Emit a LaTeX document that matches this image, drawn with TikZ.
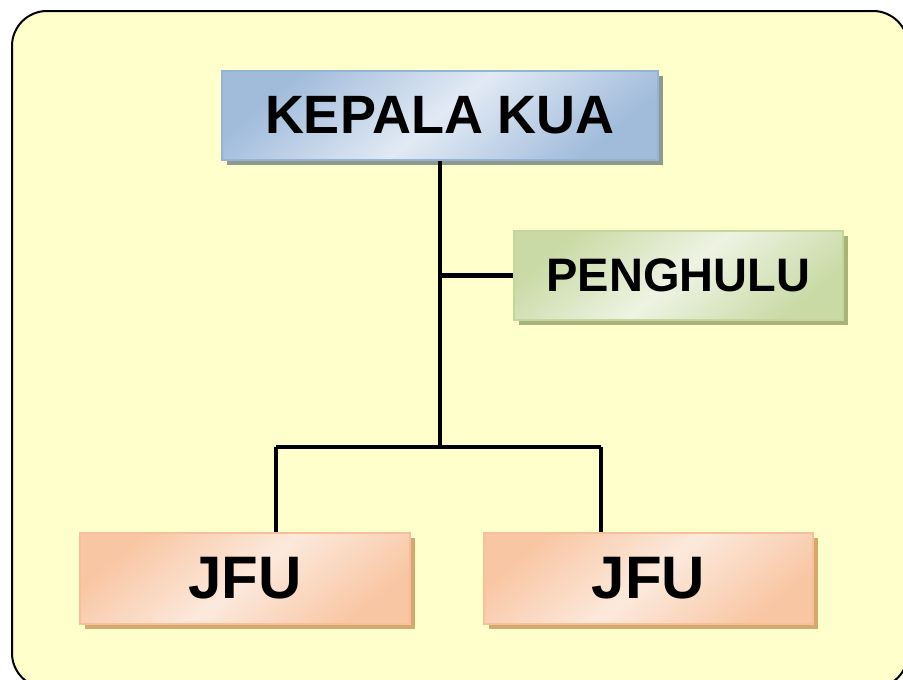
\documentclass[tikz,border=0pt]{standalone}
\usepackage{fontspec}
\setmainfont{Liberation Sans}
\usetikzlibrary{shadows}

\definecolor{panelbg}{HTML}{FFFFCC}
\definecolor{kuadark}{HTML}{95B3D7}
\definecolor{kualight}{HTML}{E2EAF4}
\definecolor{kuashade}{HTML}{8E9A8C}
\definecolor{pghdark}{HTML}{C3D69B}
\definecolor{pghlight}{HTML}{EEF3E3}
\definecolor{pghshade}{HTML}{A8B27A}
\definecolor{jfudark}{HTML}{F8C09A}
\definecolor{jfulight}{HTML}{FCE9DC}
\definecolor{jfushade}{HTML}{D6A86E}

\tikzset{
    unit/.style={rectangle, inner sep=0pt, font=\bfseries, text=black},
    kuabox/.style={unit, draw=kuadark, line width=1.5pt,
        top color=kuadark!85!kualight, bottom color=kuadark!85!kualight, middle color=kualight,
        shading angle=40,
        drop shadow={shadow xshift=5pt, shadow yshift=-5pt, opacity=1, fill=kuashade}},
    pghbox/.style={unit, draw=pghdark, line width=1.5pt,
        top color=pghdark!85!pghlight, bottom color=pghdark!85!pghlight, middle color=pghlight,
        shading angle=40,
        drop shadow={shadow xshift=5pt, shadow yshift=-5pt, opacity=1, fill=pghshade}},
    jfubox/.style={unit, draw=jfudark, line width=1.5pt,
        top color=jfudark!85!jfulight, bottom color=jfudark!85!jfulight, middle color=jfulight,
        shading angle=40,
        drop shadow={shadow xshift=5pt, shadow yshift=-5pt, opacity=1, fill=jfushade}},
    link/.style={line width=4.5pt, black}
}

\begin{document}
\begin{tikzpicture}[x=1pt, y=-1pt]
    \useasboundingbox (0,0) rectangle (903,680);
    % background panel
    \draw[fill=panelbg, line width=2pt, rounded corners=35pt] (12,11) rectangle (908,688);

    % units
    \node[kuabox, minimum width=436pt, minimum height=89pt,
        font=\fontsize{54}{60}\selectfont\bfseries] (kua) at (440,115.5) {KEPALA KUA};
    \node[pghbox, minimum width=329pt, minimum height=89pt,
        font=\fontsize{47}{52}\selectfont\bfseries] (penghulu) at (678.5,275.5) {PENGHULU};
    \node[jfubox, minimum width=330pt, minimum height=91pt,
        font=\fontsize{60}{66}\selectfont\bfseries] (jfua) at (245,578.5) {JFU};
    \node[jfubox, minimum width=329pt, minimum height=91pt,
        font=\fontsize{60}{66}\selectfont\bfseries] (jfub) at (648.5,578.5) {JFU};

    % connectors
    \coordinate (split) at (440,447);
    \coordinate (jl) at (276,447);
    \coordinate (jr) at (601,447);
    \draw[link] (kua.south) -- (split);
    \draw[link] (kua.south |- penghulu.west) -- (penghulu.west);
    \draw[link] (jl) -- (jr);
    \draw[link] (jl) -- (jl |- jfua.north);
    \draw[link] (jr) -- (jr |- jfub.north);
\end{tikzpicture}
\end{document}
